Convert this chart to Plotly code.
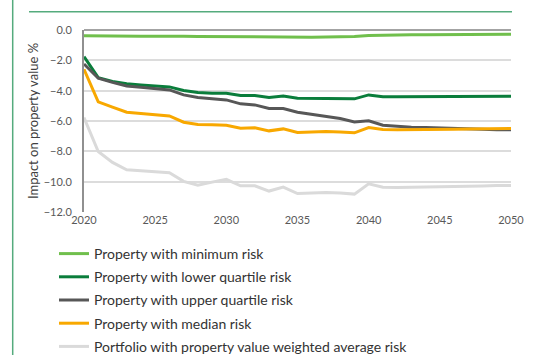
import plotly.graph_objects as go

years = list(range(2020, 2051))

min_risk = [-0.38, -0.40, -0.41, -0.42, -0.42, -0.41, -0.40, -0.42, -0.43, -0.44,
            -0.45, -0.45, -0.46, -0.46, -0.47, -0.47, -0.47, -0.46, -0.45, -0.43,
            -0.36, -0.33, -0.32, -0.31, -0.31, -0.30, -0.30, -0.29, -0.29, -0.28, -0.28]

lower_quartile = [-1.76, -3.14, -3.40, -3.55, -3.62, -3.69, -3.75, -3.99, -4.12, -4.17,
                  -4.17, -4.32, -4.32, -4.45, -4.35, -4.50, -4.50, -4.51, -4.52, -4.54,
                  -4.28, -4.40, -4.40, -4.40, -4.39, -4.39, -4.38, -4.38, -4.37, -4.37, -4.37]

upper_quartile = [-2.24, -3.18, -3.45, -3.69, -3.77, -3.86, -3.95, -4.28, -4.45, -4.54,
                  -4.61, -4.87, -4.94, -5.18, -5.18, -5.42, -5.55, -5.66, -5.84, -6.06,
                  -5.99, -6.28, -6.37, -6.41, -6.43, -6.47, -6.50, -6.53, -6.55, -6.57, -6.58]

median_risk = [-2.59, -4.74, -5.09, -5.42, -5.50, -5.58, -5.67, -6.08, -6.23, -6.24,
               -6.28, -6.47, -6.45, -6.65, -6.52, -6.76, -6.72, -6.70, -6.72, -6.78,
               -6.43, -6.56, -6.58, -6.58, -6.58, -6.56, -6.54, -6.52, -6.52, -6.51, -6.50]

portfolio = [-5.77, -8.01, -8.73, -9.22, -9.28, -9.35, -9.41, -9.98, -10.23, -10.03,
             -9.85, -10.27, -10.27, -10.62, -10.36, -10.78, -10.75, -10.71, -10.75, -10.82,
             -10.14, -10.36, -10.38, -10.37, -10.36, -10.34, -10.32, -10.30, -10.28, -10.26, -10.25]

x_ticks = [2020, 2025, 2030, 2035, 2040, 2045, 2050]
y_ticks = [0, -2, -4, -6, -8, -10, -12]

series = [
    ("Property with minimum risk", min_risk, "#70bf4c"),
    ("Property with lower quartile risk", lower_quartile, "#0a7d3b"),
    ("Property with upper quartile risk", upper_quartile, "#575757"),
    ("Property with median risk", median_risk, "#f8a800"),
    ("Portfolio with property value weighted average risk", portfolio, "#dadada"),
]

W, H = 546, 355
L, R, T, B = 84, 35, 30, 143

fig = go.Figure()
for i, (name, vals, color) in enumerate(series):
    fig.add_trace(go.Scatter(
        x=years, y=vals, name=name, mode="lines",
        line=dict(color=color, width=3),
        legendgroup=f"g{i}",
    ))

frame_green = "#55ab7d"
pw = W - L - R
ph = H - T - B


def px_x(p):
    return (p - L) / pw


def px_y(p):
    return 1 - (p - T) / ph


fig.update_layout(
    width=W, height=H,
    margin=dict(l=L, r=R, t=T, b=B, autoexpand=False),
    paper_bgcolor="white", plot_bgcolor="white",
    font=dict(family="Lato, Open Sans, sans-serif", color="#404040"),
    showlegend=True,
    legend=dict(
        x=px_x(54), y=px_y(238), xanchor="left", yanchor="top",
        font=dict(size=14, color="#333333", family="Lato, sans-serif"),
        traceorder="grouped", tracegroupgap=2,
        bgcolor="rgba(0,0,0,0)",
    ),
    xaxis=dict(
        range=[2020, 2050], tickvals=x_ticks, ticktext=[str(v) for v in x_ticks],
        showgrid=False, zeroline=False, showline=False,
        tickfont=dict(size=11, color="#595959"), ticks="",
    ),
    yaxis=dict(
        range=[-12, 0], tickvals=y_ticks, tickformat=".1f",
        showgrid=True, gridcolor="#dcdcdc", gridwidth=1.5,
        zeroline=True, zerolinecolor="#a3a3a3", zerolinewidth=2,
        showline=True, linecolor="#909090", linewidth=2,
        tickfont=dict(size=11, color="#595959"), ticks="",
        ticklabelstandoff=8,
        title=dict(text="Impact on property value %", font=dict(size=13, color="#404040"), standoff=2),
    ),
    shapes=[
        dict(type="line", xref="paper", yref="paper",
             x0=px_x(12.7), x1=px_x(12.7), y0=px_y(0), y1=px_y(H),
             line=dict(color=frame_green, width=1.5)),
        dict(type="line", xref="paper", yref="paper",
             x0=px_x(29), x1=px_x(512), y0=px_y(11.7), y1=px_y(11.7),
             line=dict(color=frame_green, width=1.5)),
    ],
)

fig.write_html("out.html")
